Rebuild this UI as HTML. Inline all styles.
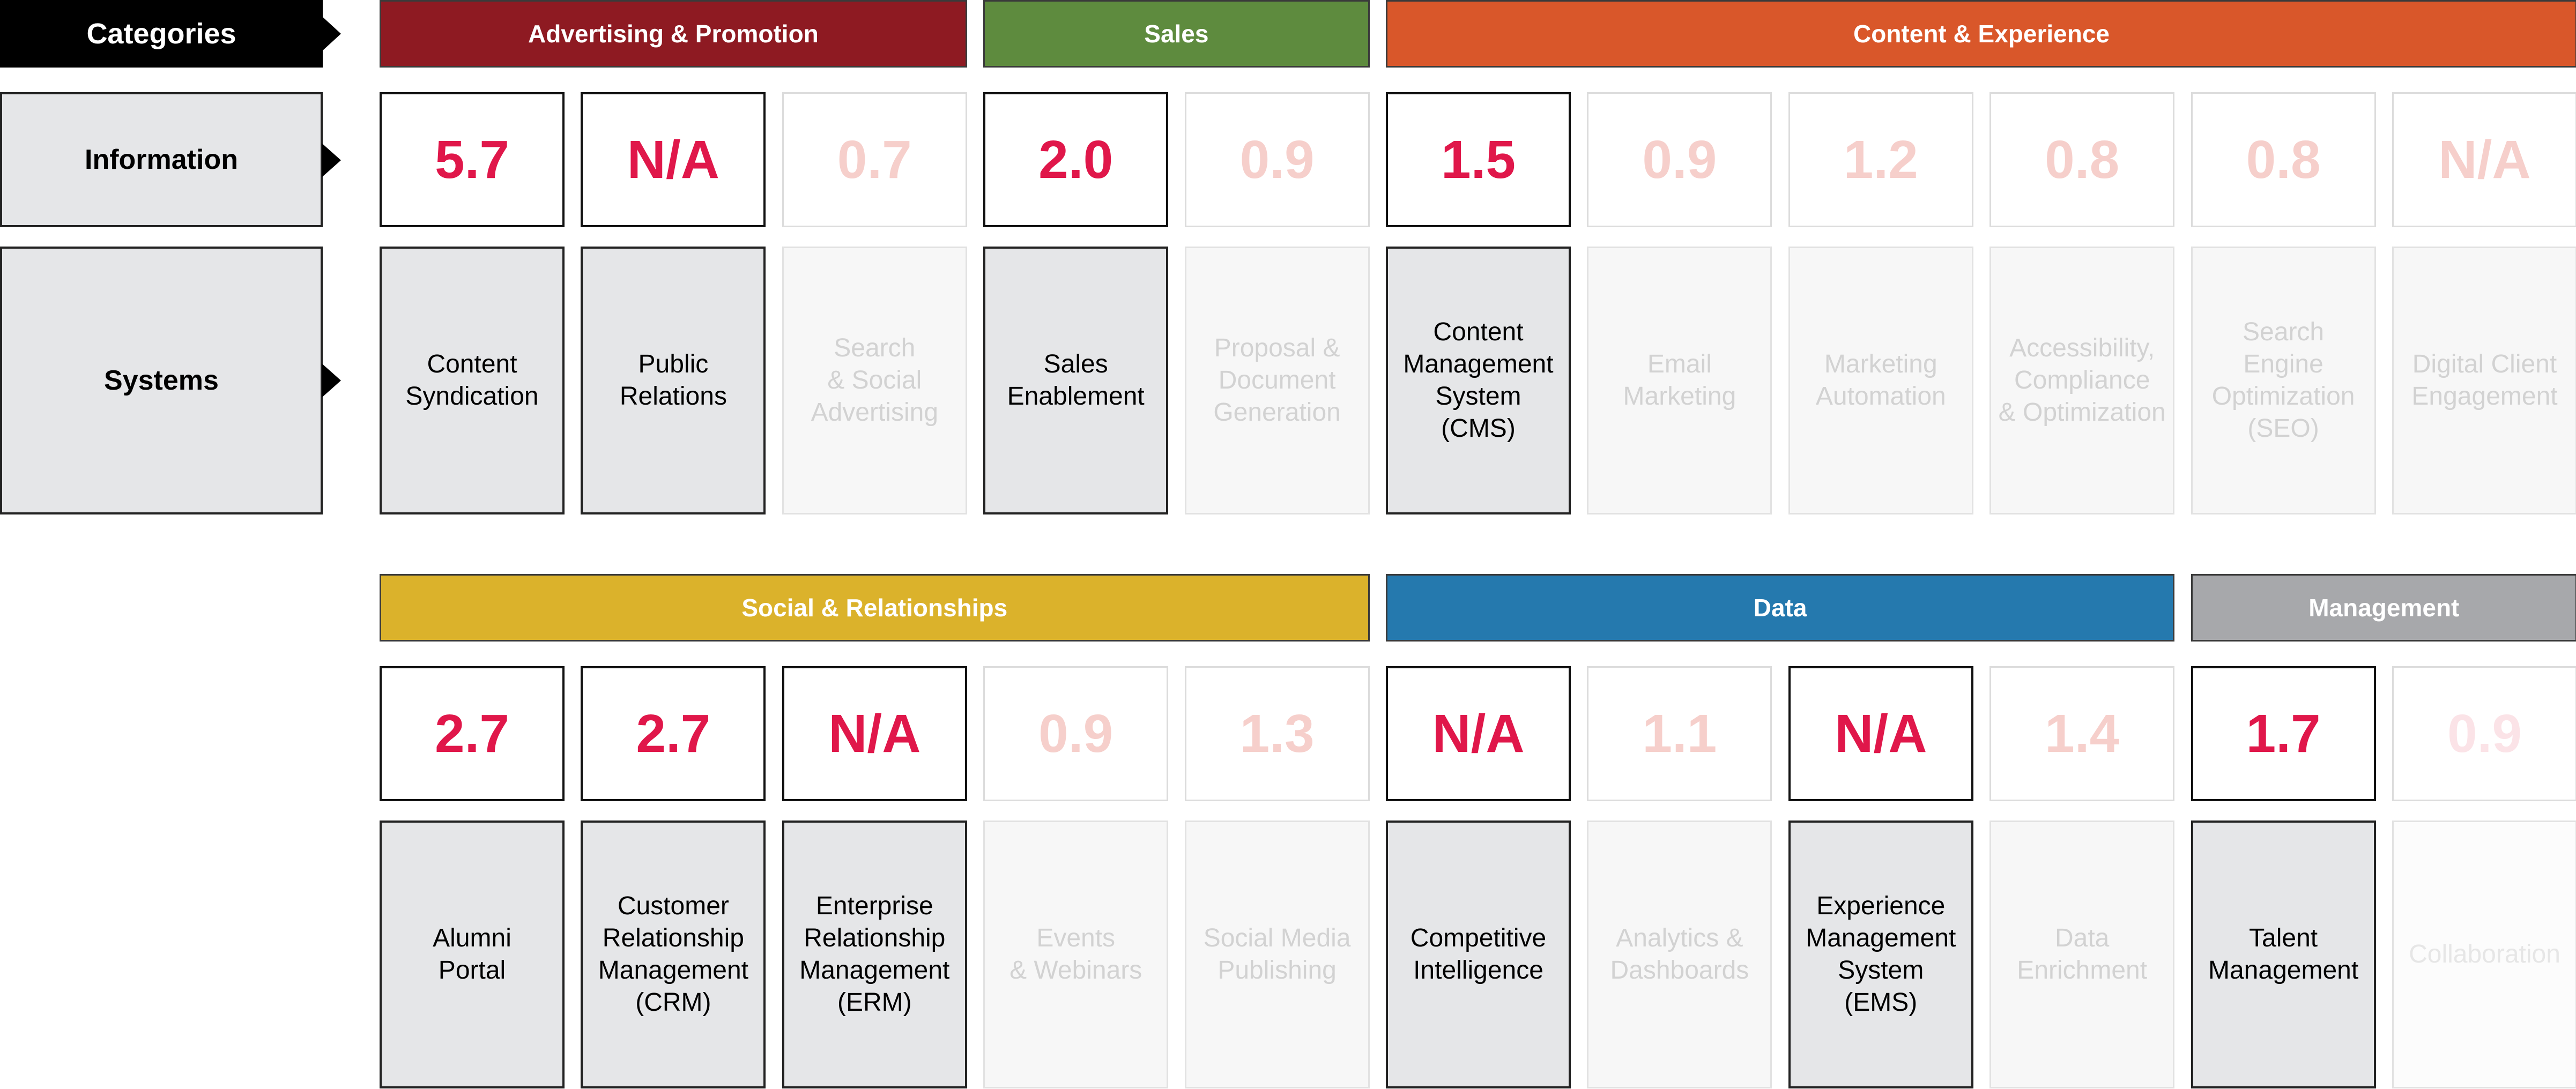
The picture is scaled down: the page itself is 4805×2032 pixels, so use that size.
<!DOCTYPE html>
<html><head><meta charset="utf-8">
<style>
html,body{margin:0;padding:0;background:#fff;}
body{width:4805px;height:2032px;position:relative;overflow:hidden;font-family:"Liberation Sans",Arial,sans-serif;}
.abs{position:absolute;box-sizing:border-box;display:flex;align-items:center;justify-content:center;text-align:center;}
.hdr{color:#fff;font-weight:bold;font-size:46px;border:3px solid #3a3a3a;}
.lbl{background:#e5e6e8;border:4px solid #222;font-weight:bold;font-size:52px;color:#000;}
.val{background:#fff;font-weight:bold;font-size:100px;}
.sys{font-size:48px;line-height:60px;}
.arrow{position:absolute;width:0;height:0;border-top:32px solid transparent;border-bottom:32px solid transparent;border-left:36px solid #000;}
</style></head>
<body>
<div class="abs hdr" style="left:0;top:0;width:602px;height:126px;background:#000;border:none;font-size:54px;">Categories</div>
<div class="arrow" style="left:600px;top:30px;border-top-width:33px;border-bottom-width:33px;"></div>
<div class="abs lbl" style="left:0;top:172px;width:602px;height:252px;">Information</div>
<div class="arrow" style="left:600px;top:267px;"></div>
<div class="abs lbl" style="left:0;top:460px;width:602px;height:500px;">Systems</div>
<div class="arrow" style="left:600px;top:678px;"></div>
<div id="root"></div>
<script>
const groupNames1=["Advertising & Promotion","Sales","Content & Experience"];
const groupSpans1=[[0,2],[3,4],[5,10]];
const groupColors1=["#8e1a22","#5e8b3e","#d9572a"];
const values1=["5.7","N/A","0.7","2.0","0.9","1.5","0.9","1.2","0.8","0.8","N/A"];
const active1=[1,1,0,1,0,1,0,0,0,0,0];
const systems1=["Content<br>Syndication","Public<br>Relations","Search<br>&amp; Social<br>Advertising","Sales<br>Enablement","Proposal &amp;<br>Document<br>Generation","Content<br>Management<br>System<br>(CMS)","Email<br>Marketing","Marketing<br>Automation","Accessibility,<br>Compliance<br>&amp; Optimization","Search<br>Engine<br>Optimization<br>(SEO)","Digital Client<br>Engagement"];
const groupNames2=["Social & Relationships","Data","Management"];
const groupSpans2=[[0,4],[5,8],[9,10]];
const groupColors2=["#dbb22b","#2579ae","#a7a8ab"];
const values2=["2.7","2.7","N/A","0.9","1.3","N/A","1.1","N/A","1.4","1.7","0.9"];
const active2=[1,1,1,0,0,1,0,1,0,1,0];
const systems2=["Alumni<br>Portal","Customer<br>Relationship<br>Management<br>(CRM)","Enterprise<br>Relationship<br>Management<br>(ERM)","Events<br>&amp; Webinars","Social Media<br>Publishing","Competitive<br>Intelligence","Analytics &amp;<br>Dashboards","Experience<br>Management<br>System<br>(EMS)","Data<br>Enrichment","Talent<br>Management","Collaboration"];

const X0=708,PITCH=375.4,W=345;
const root=document.getElementById('root');
function colX(i){return X0+i*PITCH;}
function box(cls,x,y,w,h,html,style){
  const d=document.createElement('div');
  d.className='abs '+cls;
  d.style.left=x+'px';d.style.top=y+'px';d.style.width=w+'px';d.style.height=h+'px';
  d.innerHTML=html;
  Object.assign(d.style,style||{});
  root.appendChild(d);
  return d;
}
function block(names,spans,colors,vals,act,sys,hy,vy,sy,id){
  names.forEach((n,g)=>{
    const a=spans[g][0],b=spans[g][1];
    const d=box('hdr',colX(a),hy,colX(b)+W-colX(a),126,n.replace('&','&amp;'),{background:colors[g]});
    
    
  });
  vals.forEach((v,i)=>{
    const on=act[i]===1;
    const faint=(!on && i===10 && id===2);
    const d=box('val',colX(i),vy,W,252,v,{border:on?'4px solid #111':'3px solid #dcdcdc',color:on?'#e0174a':(faint?'#fbe3e7':'#f6cfcb')});
    
    
  });
  sys.forEach((s,i)=>{
    const on=act[i]===1;
    const faint=(!on && i===10 && id===2);
    const d=box('sys',colX(i),sy,W,500,s,{background:on?'#e5e6e8':(faint?'#fcfcfc':'#f7f7f7'),border:on?'4px solid #222':'3px solid #e2e2e2',color:on?'#000':(faint?'#e6e6e6':'#d2d2d2')});
    
    
  });
}
block(groupNames1,groupSpans1,groupColors1,values1,active1,systems1,0,172,460,1);
block(groupNames2,groupSpans2,groupColors2,values2,active2,systems2,1071,1243,1531,2);
</script>
</body></html>
